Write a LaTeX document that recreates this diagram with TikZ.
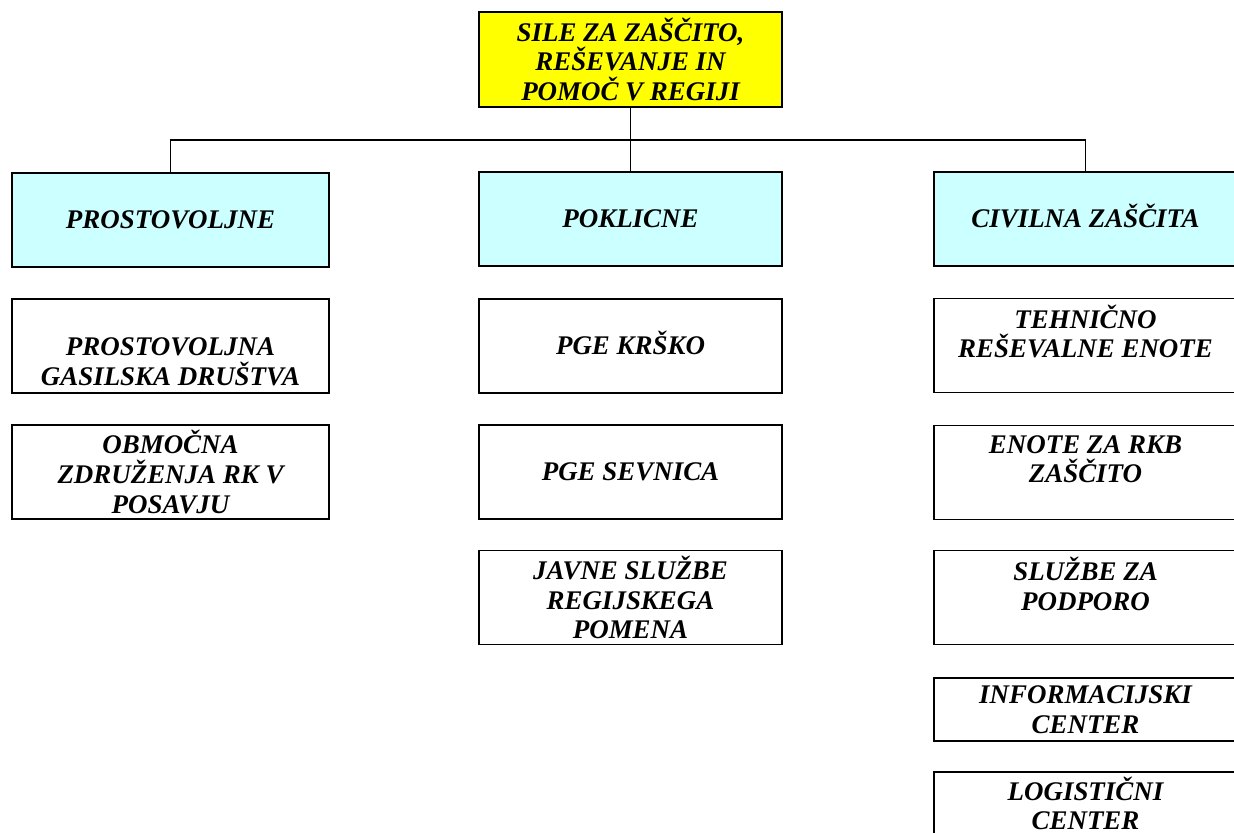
\documentclass[tikz,border=0pt]{standalone}
\usepackage{fontspec}
\setmainfont{Liberation Serif}[BoldItalicFont={Liberation Serif Bold Italic}]
\usepackage{tikz}
\definecolor{topyellow}{rgb}{1,1,0}
\definecolor{lightcyan}{rgb}{0.8,1,1}

\begin{document}
\begin{tikzpicture}[x=0.75pt, y=-0.75pt,
        txt/.style={font=\fontsize{20.2}{22.3}\selectfont\bfseries\itshape, align=center},
        box/.style={draw, line width=1.1pt, inner sep=0pt, minimum width=303*0.75pt, minimum height=94*0.75pt, txt},
        one/.style={text height=13pt, text depth=0pt},
        wide/.style={minimum width=317*0.75pt},
        low/.style={minimum height=63*0.75pt}]
        \clip (0, 0) rectangle (1234, 832);
        \node(top)[box, fill=topyellow, minimum height=95*0.75pt] at (630.5, 59.5) {SILE ZA ZAŠČITO,\\REŠEVANJE IN\\POMOČ V REGIJI};
        \node(pro)[box, wide, one, fill=lightcyan] at (170.5, 220) {PROSTOVOLJNE};
        \node(pok)[box, one, fill=lightcyan] at (630.5, 219) {POKLICNE};
        \node(civ)[box, one, fill=lightcyan] at (1085.5, 219) {CIVILNA ZAŠČITA};
        \coordinate (bar) at (630.5, 140);
        \draw[line width=1.1pt] (top) -- (pok);
        \draw[line width=1.1pt] (pro.north) |- (bar) -| (civ.north);
        \node(pgd)[box, wide, label={[txt, yshift=-12pt]center:{PROSTOVOLJNA\\GASILSKA DRUŠTVA}}] at (170.5, 346) {};
        \node(ozrk)[box, wide] at (170.5, 472) {OBMOČNA\\ZDRUŽENJA RK V\\POSAVJU};
        \node(krsko)[box, one] at (630.5, 346) {PGE KRŠKO};
        \node(sevnica)[box, one] at (630.5, 472) {PGE SEVNICA};
        \node(javne)[box] at (630.5, 597.5) {JAVNE SLUŽBE\\REGIJSKEGA\\POMENA};
        \node(tre)[box, label={[txt, yshift=10.5pt]center:{TEHNIČNO\\REŠEVALNE ENOTE}}] at (1085.5, 345.5) {};
        \node(rkb)[box, label={[txt, yshift=10pt]center:{ENOTE ZA RKB\\ZAŠČITO}}] at (1085.5, 472.5) {};
        \node(podpora)[box, label={[txt, yshift=10pt]center:{SLUŽBE ZA\\PODPORO}}] at (1085.5, 597.5) {};
        \node(info)[box, low] at (1085.5, 709.5) {INFORMACIJSKI\\CENTER};
        \node(logist)[box, low] at (1085.5, 803.5) {LOGISTIČNI\\CENTER};
    \end{tikzpicture}
\end{document}
